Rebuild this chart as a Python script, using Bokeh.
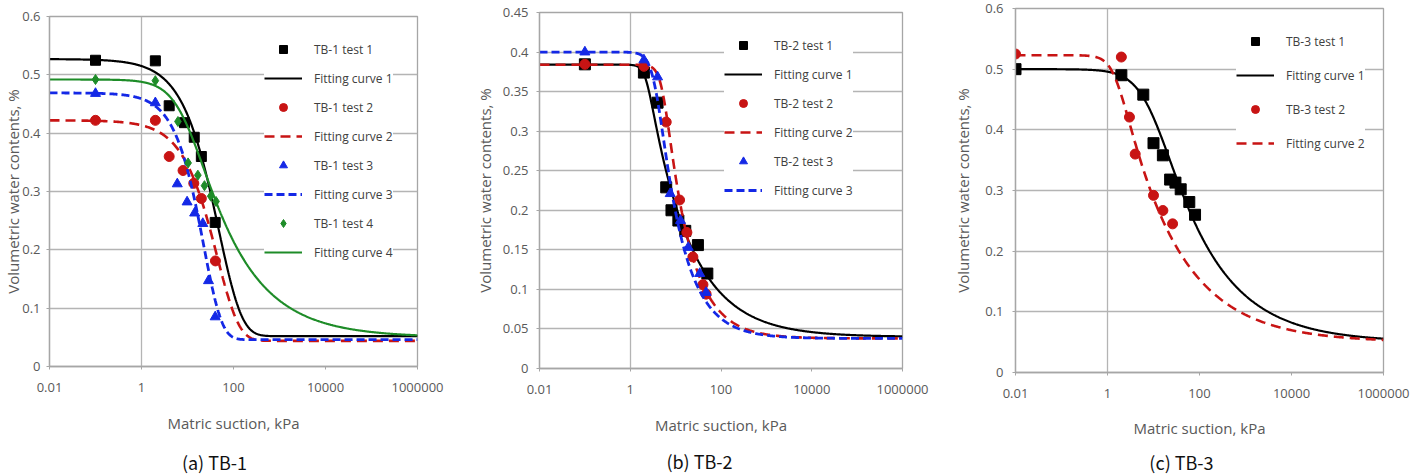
import numpy as np
from bokeh.plotting import figure
from bokeh.layouts import row, column
from bokeh.models import Range1d, FixedTicker, CustomJSTickFormatter
from bokeh.core.properties import value
from bokeh.embed import file_html
from bokeh.resources import INLINE

# ---------------------------------------------------------------
# Measured soil-water characteristic points: suction (kPa), water content
# ---------------------------------------------------------------
tb1_test1_x = [0.1, 2, 4, 8.6, 14, 20, 40]
tb1_test1_y = [0.525, 0.524, 0.447, 0.418, 0.393, 0.36, 0.247]
tb1_test2_x = [0.1, 2, 4, 8, 13.7, 20, 40.5]
tb1_test2_y = [0.422, 0.422, 0.36, 0.336, 0.314, 0.288, 0.181]
tb1_test3_x = [0.1, 2, 6, 9.8, 14.3, 21.5, 28.6, 40]
tb1_test3_y = [0.468, 0.452, 0.313, 0.282, 0.263, 0.245, 0.147, 0.085]
tb1_test4_x = [0.1, 2, 6.2, 10.3, 16.8, 23.4, 32, 41.7]
tb1_test4_y = [0.492, 0.49, 0.42, 0.349, 0.328, 0.31, 0.292, 0.283]

tb2_test1_x = [0.1, 2, 4, 6.2, 8.1, 11.5, 16.3, 31, 50]
tb2_test1_y = [0.3845, 0.374, 0.336, 0.229, 0.2, 0.187, 0.174, 0.156, 0.12]
tb2_test2_x = [0.1, 2, 6.2, 12.2, 17.7, 24, 40, 47]
tb2_test2_y = [0.3845, 0.382, 0.3115, 0.213, 0.172, 0.141, 0.106, 0.094]
tb2_test3_x = [0.1, 2, 4, 7.6, 12.8, 19, 34, 47]
tb2_test3_y = [0.40, 0.39, 0.3685, 0.221, 0.187, 0.153, 0.12, 0.096]

tb3_test1_x = [0.01, 2, 6, 10, 16, 23, 30, 39, 60, 80]
tb3_test1_y = [0.50, 0.49, 0.458, 0.378, 0.358, 0.318, 0.313, 0.302, 0.281, 0.26]
tb3_test2_x = [0.01, 2, 3, 4, 10, 16, 26]
tb3_test2_y = [0.525, 0.52, 0.421, 0.36, 0.292, 0.267, 0.245]

# van Genuchten fitting parameters: theta_s, theta_r, a (kPa), n, m
tb1_theta_s = [0.527, 0.422, 0.469, 0.492]
tb1_theta_r = [0.052, 0.044, 0.046, 0.050]
tb1_a = [537.0, 438.0, 152.0, 9.7]
tb1_n = [0.95, 1.0, 1.2, 1.5]
tb1_m = [10.0, 10.0, 10.0, 0.28]

tb2_theta_s = [0.384, 0.384, 0.400]
tb2_theta_r = [0.040, 0.038, 0.038]
tb2_a = [2.2, 5.22, 3.6]
tb2_n = [6.0, 5.0, 4.0]
tb2_m = [0.08, 0.16, 0.20]

tb3_theta_s = [0.500, 0.523]
tb3_theta_r = [0.050, 0.050]
tb3_a = [8.93, 1.474]
tb3_n = [1.5, 3.0]
tb3_m = [0.25, 0.12]

# axis ticks
x_ticks = [0.01, 1, 100, 10000, 1000000]
y_ticks_06 = [0, 0.1, 0.2, 0.3, 0.4, 0.5, 0.6]
y_ticks_045 = [0, 0.05, 0.1, 0.15, 0.2, 0.25, 0.3, 0.35, 0.4, 0.45]

# text
x_title = "Matric suction, kPa"
y_title = "Volumetric water contents, %"
captions = ["(a)  TB-1", "(b)  TB-2", "(c)  TB-3"]

# ---------------------------------------------------------------
BLACK = "#000000"
RED = "#c81414"
BLUE = "#1428e6"
GREEN = "#1e8c28"
GRID = "#b4b4b4"
FRAME = "#a6a6a6"
TEXT = "#595959"
FONT = "Open Sans"
CHART_H = 445
CAPTION_H = 30

SUCTION = np.logspace(-2, 6, 600)


def van_genuchten(psi, ts, tr, a, n, m):
    return tr + (ts - tr) / (1.0 + (psi / a) ** n) ** m


def make_panel(width, borders, y_max, y_ticks, tests, curves, legend_geom,
               ylabel_standoffs, xlabel_standoff):
    left, right, top, bottom = borders
    p = figure(width=width, height=CHART_H, x_axis_type="log", title=None,
               x_range=Range1d(0.01, 1e6), y_range=Range1d(0, y_max),
               output_backend="svg", toolbar_location=None, frame_align=False,
               min_border_left=left, min_border_right=right,
               min_border_top=top, min_border_bottom=bottom)
    p.background_fill_color = "white"
    p.border_fill_color = "white"
    p.outline_line_color = FRAME
    p.outline_line_width = 1.3

    # axes
    p.xaxis.ticker = FixedTicker(ticks=x_ticks)
    p.xaxis.formatter = CustomJSTickFormatter(code="return String(Number(tick.toPrecision(6)));")
    p.yaxis.ticker = FixedTicker(ticks=y_ticks)
    p.yaxis.formatter = CustomJSTickFormatter(code="return String(Number(tick.toFixed(2)));")
    for ax in (p.xaxis[0], p.yaxis[0]):
        ax.axis_line_color = FRAME
        ax.axis_line_width = 1.3
        ax.major_tick_line_color = FRAME
        ax.major_tick_out = 3
        ax.major_tick_in = 0
        ax.minor_tick_line_color = None
        ax.major_label_text_font = FONT
        ax.major_label_text_font_size = "13px"
        ax.major_label_text_color = TEXT
        ax.axis_label_text_font = FONT
        ax.axis_label_text_font_size = "15px"
        ax.axis_label_text_font_style = "normal"
        ax.axis_label_text_color = TEXT
    p.xaxis.major_label_standoff = 13
    p.xaxis.axis_label = x_title
    p.xaxis.axis_label_standoff = xlabel_standoff
    tick_standoff, label_standoff = ylabel_standoffs
    p.yaxis.major_label_standoff = tick_standoff
    p.yaxis.axis_label = y_title
    p.yaxis.axis_label_standoff = label_standoff

    # grid: horizontal lines at every tick, vertical line at 1 kPa
    p.ygrid.grid_line_color = GRID
    p.ygrid.grid_line_width = 1.3
    p.xgrid.ticker = FixedTicker(ticks=[1])
    p.xgrid.grid_line_color = GRID
    p.xgrid.grid_line_width = 1.3

    for (xs, ys, marker, color, size, label), curve in zip(tests, curves):
        p.scatter(xs, ys, marker=marker, size=size, color=color, legend_label=label)
        (ts, tr, a, n, m, ccolor, dash, lw, clabel) = curve
        p.line(SUCTION, van_genuchten(SUCTION, ts, tr, a, n, m), line_color=ccolor,
               line_dash=dash, line_width=lw, legend_label=clabel)

    lg = p.legend[0]
    lx, ly, spacing = legend_geom
    lg.location = (lx, ly)
    lg.padding = 2
    lg.spacing = spacing
    lg.margin = 0
    lg.glyph_width = 38
    lg.glyph_height = 20
    lg.label_height = 20
    lg.label_standoff = 12
    lg.label_text_font = FONT
    lg.label_text_font_size = "12px"
    lg.label_text_color = "#404040"
    lg.border_line_color = None
    lg.background_fill_color = "white"
    lg.background_fill_alpha = 1.0
    return p


def make_caption(width, text, cx, cy):
    c = figure(width=width, height=CAPTION_H, title=None,
               x_range=Range1d(0, width), y_range=Range1d(0, CAPTION_H),
               x_axis_location=None, y_axis_location=None, frame_align=False,
               output_backend="svg", toolbar_location=None, min_border=0)
    c.outline_line_color = None
    c.background_fill_color = "white"
    c.border_fill_color = "white"
    c.grid.visible = False
    c.text(x=[cx], y=[cy], text=[text], text_align="center", text_baseline="middle",
           text_font=value("Noto Sans CJK KR"), text_font_size="18px", text_color="#111111")
    return c


p1 = make_panel(
    471, (45, 54, 16, CHART_H - 366), 0.6, y_ticks_06,
    [(tb1_test1_x, tb1_test1_y, "square", BLACK, 10, "TB-1 test 1"),
     (tb1_test2_x, tb1_test2_y, "circle", RED, 10, "TB-1 test 2"),
     (tb1_test3_x, tb1_test3_y, "triangle", BLUE, 10, "TB-1 test 3"),
     (tb1_test4_x, tb1_test4_y, "diamond", GREEN, 10, "TB-1 test 4")],
    [(tb1_theta_s[0], tb1_theta_r[0], tb1_a[0], tb1_n[0], tb1_m[0], BLACK, "solid", 2.2, "Fitting curve 1"),
     (tb1_theta_s[1], tb1_theta_r[1], tb1_a[1], tb1_n[1], tb1_m[1], RED, "10 6", 2.6, "Fitting curve 2"),
     (tb1_theta_s[2], tb1_theta_r[2], tb1_a[2], tb1_n[2], tb1_m[2], BLUE, "8 4", 2.8, "Fitting curve 3"),
     (tb1_theta_s[3], tb1_theta_r[3], tb1_a[3], tb1_n[3], tb1_m[3], GREEN, "solid", 2.2, "Fitting curve 4")],
    (215, 104, 9), (6, -4), 18)

p2 = make_panel(
    471, (68, 40, 12, CHART_H - 368), 0.45, y_ticks_045,
    [(tb2_test1_x, tb2_test1_y, "square", BLACK, 11, "TB-2 test 1"),
     (tb2_test2_x, tb2_test2_y, "circle", RED, 10, "TB-2 test 2"),
     (tb2_test3_x, tb2_test3_y, "triangle", BLUE, 10, "TB-2 test 3")],
    [(tb2_theta_s[0], tb2_theta_r[0], tb2_a[0], tb2_n[0], tb2_m[0], BLACK, "solid", 2.2, "Fitting curve 1"),
     (tb2_theta_s[1], tb2_theta_r[1], tb2_a[1], tb2_n[1], tb2_m[1], RED, "10 6", 2.6, "Fitting curve 2"),
     (tb2_theta_s[2], tb2_theta_r[2], tb2_a[2], tb2_n[2], tb2_m[2], BLUE, "8 4", 2.8, "Fitting curve 3")],
    (185, 168, 9), (8, 5), 18)

p3 = make_panel(
    472, (73, 31, 8, CHART_H - 372), 0.6, y_ticks_06,
    [(tb3_test1_x, tb3_test1_y, "square", BLACK, 11, "TB-3 test 1"),
     (tb3_test2_x, tb3_test2_y, "circle", RED, 10, "TB-3 test 2")],
    [(tb3_theta_s[0], tb3_theta_r[0], tb3_a[0], tb3_n[0], tb3_m[0], BLACK, "solid", 2.2, "Fitting curve 1"),
     (tb3_theta_s[1], tb3_theta_r[1], tb3_a[1], tb3_n[1], tb3_m[1], RED, "10 6", 2.6, "Fitting curve 2")],
    (221, 219, 14), (9, 9), 17)

c1 = make_caption(471, captions[0], 216, 14)
c2 = make_caption(471, captions[1], 230, 15)
c3 = make_caption(472, captions[2], 241, 14)

layout = column(row(p1, p2, p3, spacing=0), row(c1, c2, c3, spacing=0), spacing=0)
open("out.html", "w").write(file_html(layout, INLINE))
